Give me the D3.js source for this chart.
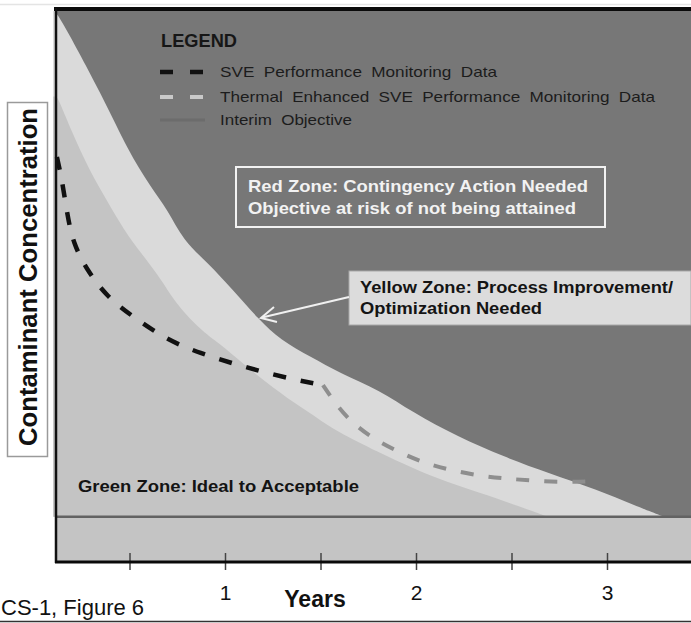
<!DOCTYPE html>
<html>
<head>
  <meta charset="utf-8">
  <title>Contaminant Concentration vs Years</title>
  <script src="https://d3js.org/d3.v7.min.js"></script>
  <style>
    body { margin: 0; background: #fff; }
    text { font-family: "Liberation Sans", Arial, sans-serif; }
  </style>
</head>
<body>
<div id="chart"></div>
<script type="text/javascript">
  let w = 691;
  let h = 623;

  // zone edges, [years, concentration]
  let redYellowEdge = [
    [0.12, 100], [0.37, 83.8], [0.49, 74.8], [0.61, 68.1], [0.70, 63.9],
    [0.78, 58.4], [0.91, 54.3], [1.04, 49.4], [1.18, 43.9], [1.29, 40.3],
    [1.45, 37.2], [1.60, 34.3], [1.81, 31.2], [1.98, 27.2], [2.22, 22.7],
    [2.46, 19.1], [2.69, 16.2], [2.95, 13.1], [3.14, 10.3], [3.30, 8.2] ];
  let yellowGreenEdge = [
    [0.12, 84.5], [0.14, 83.0], [0.20, 77.9], [0.29, 71.1], [0.38, 65.7],
    [0.47, 60.3], [0.56, 56.1], [0.68, 50.6], [0.73, 47.5], [0.87, 42.1],
    [0.97, 39.7], [1.09, 36.1], [1.22, 32.5], [1.36, 28.9], [1.50, 25.8],
    [1.57, 24.0], [1.81, 19.8], [1.98, 17.1], [2.16, 14.5], [2.34, 12.5],
    [2.55, 10.0], [2.69, 8.2] ];
  let sveData = [
    [0.12, 73.5], [0.147, 69.3], [0.173, 63.3], [0.204, 57.9], [0.277, 53.0],
    [0.382, 48.1], [0.518, 44.5], [0.696, 40.3], [0.869, 37.9], [1.063, 35.8],
    [1.220, 34.3], [1.377, 33.0], [1.513, 32.1] ];
  let thermalData = [
    [1.513, 32.1], [1.565, 29.4], [1.639, 26.1], [1.759, 22.7], [1.890, 20.3],
    [2.031, 18.1], [2.178, 16.7], [2.335, 15.6], [2.482, 15.1], [2.634, 14.7],
    [2.791, 14.5], [2.937, 14.7] ];
  let interimObjective = 8.2;
  let xTicks = [0.5, 1, 1.5, 2, 2.5, 3];
  let xTickLabels = {1: '1', 2: '2', 3: '3'};
  let legendItems = [
    'SVE Performance Monitoring Data',
    'Thermal Enhanced SVE Performance Monitoring Data',
    'Interim Objective' ];

  let plotLeft = 56, plotTop = 11, plotBottom = 562;

  let xScale = d3.scaleLinear().domain([0, 3]).range([34, 607]);
  let yScale = d3.scaleLinear().domain([0, 100]).range([plotBottom, plotTop]);

  let svg = d3.select('#chart')
              .append('svg')
              .attr('width', w)
              .attr('height', h);

  // red zone background
  svg.append('rect')
     .attr('x', plotLeft).attr('y', plotTop)
     .attr('width', w - plotLeft).attr('height', plotBottom - plotTop)
     .attr('fill', '#777777');

  let zone = d3.area()
               .x(([x, y]) => xScale(x))
               .y0(yScale(interimObjective))
               .y1(([x, y]) => yScale(y))
               .curve(d3.curveBasis);

  // yellow zone
  svg.append('path')
     .attr('d', zone([[0.1, 100], ...redYellowEdge]))
     .attr('fill', '#dadada');
  // green zone
  svg.append('path')
     .attr('d', zone([[0.1, 84.5], ...yellowGreenEdge]))
     .attr('fill', '#c4c4c4');
  // band below interim objective
  svg.append('rect')
     .attr('x', plotLeft).attr('y', yScale(interimObjective))
     .attr('width', w - plotLeft).attr('height', plotBottom - yScale(interimObjective))
     .attr('fill', '#c4c4c4');
  svg.append('line')
     .attr('x1', plotLeft).attr('x2', w)
     .attr('y1', yScale(interimObjective)).attr('y2', yScale(interimObjective))
     .attr('stroke', '#626262').attr('stroke-width', 2.5);

  let line = d3.line()
               .x(([x, y]) => xScale(x))
               .y(([x, y]) => yScale(y))
               .curve(d3.curveBasis);

  svg.append('path')
     .attr('d', line(thermalData))
     .attr('fill', 'none')
     .attr('stroke', '#8e8e8e')
     .attr('stroke-width', 4)
     .attr('stroke-dasharray', '13,15');
  svg.append('path')
     .attr('d', line(sveData))
     .attr('fill', 'none')
     .attr('stroke', '#111')
     .attr('stroke-width', 4.5)
     .attr('stroke-dasharray', '13,15');

  // axes frame
  svg.append('line')
     .attr('x1', 54).attr('x2', w).attr('y1', 9).attr('y2', 9)
     .attr('stroke', '#0a0a0a').attr('stroke-width', 4);
  svg.append('line')
     .attr('x1', 0).attr('x2', w).attr('y1', 4.5).attr('y2', 4.5)
     .attr('stroke', '#e4e4e4').attr('stroke-width', 1.5);
  svg.append('line')
     .attr('x1', plotLeft).attr('x2', plotLeft).attr('y1', 8).attr('y2', plotBottom + 1)
     .attr('stroke', '#111').attr('stroke-width', 2.5);

  let xAxis = d3.axisBottom(xScale)
                .tickValues(xTicks)
                .tickSize(17)
                .tickFormat(d => xTickLabels[d] || '');
  let gx = svg.append('g')
              .attr('transform', `translate(0,${plotBottom - 9})`)
              .call(xAxis);
  gx.select('.domain').remove();
  gx.selectAll('.tick line').attr('stroke', '#444').attr('stroke-width', 1.5);
  gx.selectAll('.tick text')
    .attr('font-size', '21px')
    .attr('fill', '#111')
    .attr('y', 47)
    .attr('dy', 0)
    .attr('font-family', '"Liberation Sans", Arial, sans-serif');
  svg.append('line')
     .attr('x1', plotLeft - 1).attr('x2', w).attr('y1', plotBottom).attr('y2', plotBottom)
     .attr('stroke', '#0a0a0a').attr('stroke-width', 3);

  // bottom rule
  svg.append('line')
     .attr('x1', 0).attr('x2', w).attr('y1', 621.5).attr('y2', 621.5)
     .attr('stroke', '#333').attr('stroke-width', 1.5);

  svg.append('text')
     .attr('x', 315).attr('y', 607)
     .attr('text-anchor', 'middle')
     .attr('font-size', '23px').attr('font-weight', 'bold')
     .attr('fill', '#111')
     .text('Years');

  svg.append('text')
     .attr('x', 1).attr('y', 615)
     .attr('font-size', '22px')
     .attr('fill', '#111')
     .text('CS-1, Figure 6');

  // y label box
  svg.append('rect')
     .attr('x', 7.5).attr('y', 102.5).attr('width', 40).attr('height', 354)
     .attr('fill', '#fff').attr('stroke', '#9a9a9a').attr('stroke-width', 1.5);
  svg.append('text')
     .attr('transform', 'translate(37,277) rotate(-90)')
     .attr('text-anchor', 'middle')
     .attr('font-size', '25px').attr('font-weight', 'bold')
     .attr('fill', '#111')
     .attr('textLength', 338).attr('lengthAdjust', 'spacingAndGlyphs')
     .text('Contaminant Concentration');

  // legend
  svg.append('text')
     .attr('x', 161).attr('y', 47)
     .attr('font-size', '18px').attr('font-weight', 'bold')
     .attr('fill', '#161616')
     .attr('textLength', 76).attr('lengthAdjust', 'spacingAndGlyphs')
     .text('LEGEND');

  let legendStyles = [
    {stroke: '#111', dash: true, width: 4.5},
    {stroke: '#c9c9c9', dash: true, width: 4},
    {stroke: '#6c6c6c', dash: false, width: 3} ];
  let legendWidths = [277, 435, 132];
  let legendY = [72, 97, 120];

  legendItems.forEach((label, i) => {
    let s = legendStyles[i];
    let ln = svg.append('line')
       .attr('x1', 160).attr('x2', 205)
       .attr('y1', legendY[i]).attr('y2', legendY[i])
       .attr('stroke', s.stroke).attr('stroke-width', s.width);
    if (s.dash) ln.attr('stroke-dasharray', '13,17');
    svg.append('text')
       .attr('x', 220).attr('y', legendY[i] + 5)
       .attr('font-size', '15px')
       .attr('word-spacing', '4px')
       .attr('fill', '#1c1c1c')
       .attr('textLength', legendWidths[i]).attr('lengthAdjust', 'spacingAndGlyphs')
       .text(label);
  });

  // red zone note
  svg.append('rect')
     .attr('x', 236).attr('y', 167).attr('width', 369).attr('height', 60)
     .attr('fill', 'none').attr('stroke', '#f2f2f2').attr('stroke-width', 2);
  [['Red Zone: Contingency Action Needed', 192, 340],
   ['Objective at risk of not being attained', 214, 328]].forEach(([t, y, len]) => {
    svg.append('text')
       .attr('x', 248).attr('y', y)
       .attr('font-size', '17px').attr('font-weight', 'bold')
       .attr('fill', '#f2f2f2')
       .attr('textLength', len).attr('lengthAdjust', 'spacingAndGlyphs')
       .text(t);
  });

  // yellow zone note
  svg.append('rect')
     .attr('x', 349).attr('y', 271).attr('width', 342).attr('height', 54)
     .attr('fill', '#dcdcdc').attr('stroke', '#a8a8a8').attr('stroke-width', 1);
  [['Yellow Zone: Process Improvement/', 293, 313],
   ['Optimization Needed', 314, 182]].forEach(([t, y, len]) => {
    svg.append('text')
       .attr('x', 360).attr('y', y)
       .attr('font-size', '17px').attr('font-weight', 'bold')
       .attr('fill', '#141414')
       .attr('textLength', len).attr('lengthAdjust', 'spacingAndGlyphs')
       .text(t);
  });

  // arrow to the yellow band
  svg.append('line')
     .attr('x1', 349).attr('y1', 297).attr('x2', 262).attr('y2', 317.5)
     .attr('stroke', '#f0f0f0').attr('stroke-width', 2);
  svg.append('path')
     .attr('d', 'M274,307 L261,318 L277,322')
     .attr('fill', 'none').attr('stroke', '#f0f0f0').attr('stroke-width', 2);

  // green zone note
  svg.append('text')
     .attr('x', 78).attr('y', 492)
     .attr('font-size', '16px').attr('font-weight', 'bold')
     .attr('fill', '#141414')
     .attr('textLength', 281).attr('lengthAdjust', 'spacingAndGlyphs')
     .text('Green Zone: Ideal to Acceptable');
</script>
</body>
</html>
